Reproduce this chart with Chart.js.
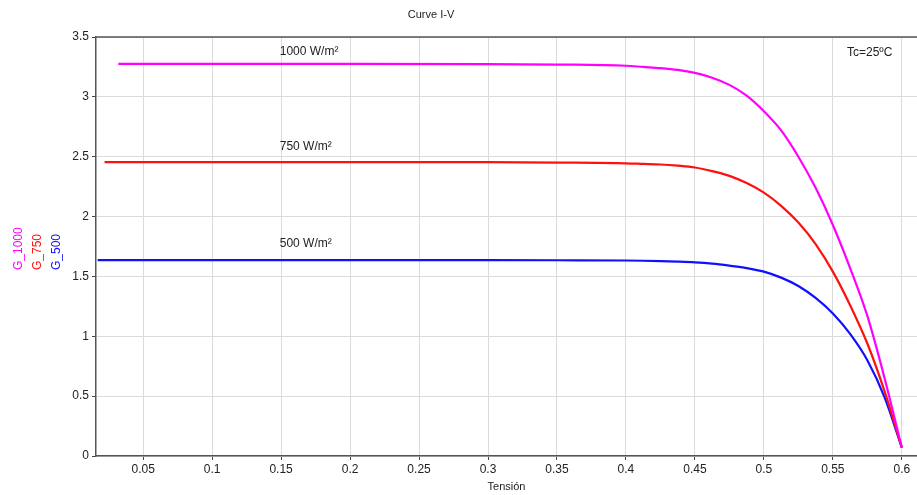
<!DOCTYPE html>
<html>
<head>
<meta charset="utf-8">
<script src="https://cdn.jsdelivr.net/npm/chart.js@4.4.1/dist/chart.umd.min.js"></script>
<style>
  html, body { margin:0; padding:0; background:#fff; }
  #wrap { width:917px; height:495px; }
</style>
</head>
<body>
<div id="wrap"><canvas id="ivChart" width="917" height="495"></canvas></div>
<script>
// Tensión (V) / corriente (A)
const v1000 = [0.032, 0.1, 0.2, 0.3, 0.35, 0.4, 0.4125, 0.425, 0.4375, 0.45, 0.4625, 0.475, 0.4875, 0.5, 0.5125, 0.525, 0.5375, 0.55, 0.5625, 0.575, 0.5875, 0.6];
const g1000 = [3.275, 3.275, 3.275, 3.274, 3.27, 3.26, 3.25, 3.24, 3.225, 3.20, 3.16, 3.10, 3.01, 2.88, 2.72, 2.50, 2.24, 1.93, 1.57, 1.17, 0.65, 0.07];

const v750 = [0.022, 0.1, 0.2, 0.3, 0.35, 0.4, 0.4125, 0.425, 0.4375, 0.45, 0.4625, 0.475, 0.4875, 0.5, 0.5125, 0.525, 0.5375, 0.55, 0.5625, 0.575, 0.5875, 0.6];
const g750 = [2.455, 2.455, 2.455, 2.454, 2.451, 2.445, 2.44, 2.435, 2.425, 2.41, 2.38, 2.34, 2.28, 2.20, 2.09, 1.95, 1.77, 1.54, 1.26, 0.94, 0.54, 0.07];

const v500 = [0.017, 0.1, 0.2, 0.3, 0.35, 0.4, 0.4125, 0.425, 0.4375, 0.45, 0.4625, 0.475, 0.4875, 0.5, 0.5125, 0.525, 0.5375, 0.55, 0.5625, 0.575, 0.5875, 0.6];
const g500 = [1.637, 1.637, 1.637, 1.636, 1.635, 1.633, 1.631, 1.628, 1.624, 1.618, 1.607, 1.59, 1.57, 1.54, 1.49, 1.42, 1.32, 1.19, 1.02, 0.80, 0.49, 0.07];

const xTicks = [0.05, 0.1, 0.15, 0.2, 0.25, 0.3, 0.35, 0.4, 0.45, 0.5, 0.55, 0.6];
const yTicks = [0, 0.5, 1, 1.5, 2, 2.5, 3, 3.5];

const seriesNames = ['G_1000', 'G_750', 'G_500'];
const seriesColors = ['#ff00ff', '#ff1010', '#1010ff'];
const curveLabels = ['1000 W/m²', '750 W/m²', '500 W/m²'];
const curveLabelAt = [[0.149, 3.38], [0.149, 2.58], [0.149, 1.77]];

function toPoints(xs, ys){
    return xs.map((x, i) => ({x: x, y: ys[i]}));
}

const textFont = '12px "Liberation Sans", Arial, sans-serif';

// titles, curve labels, rotated legend, top border
const extras = {
    id: 'extras',
    afterDraw(chart){
        let ctx = chart.ctx;
        let area = chart.chartArea;
        let xs = chart.scales.x;
        let ys = chart.scales.y;
        ctx.save();

        ctx.strokeStyle = '#555';
        ctx.lineWidth = 1.5;
        ctx.beginPath();
        ctx.moveTo(area.left, area.top);
        ctx.lineTo(area.right, area.top);
        ctx.stroke();

        ctx.fillStyle = '#222';
        ctx.font = '11px "Liberation Sans", Arial, sans-serif';
        ctx.textAlign = 'center';
        ctx.textBaseline = 'middle';
        ctx.fillText('Curve I-V', 431, 15);
        ctx.fillText('Tensión', (area.left + area.right) / 2, 487);

        ctx.font = textFont;
        ctx.textAlign = 'left';
        for(let i = 0; i < curveLabels.length; i++){
            ctx.fillText(curveLabels[i], xs.getPixelForValue(curveLabelAt[i][0]), ys.getPixelForValue(curveLabelAt[i][1]));
        }
        ctx.fillText('Tc=25ºC', 847, 53);

        let legendX = [19, 38, 57];
        for(let i = 0; i < seriesNames.length; i++){
            ctx.save();
            ctx.translate(legendX[i], 270);
            ctx.rotate(-Math.PI / 2);
            ctx.fillStyle = seriesColors[i];
            ctx.textAlign = 'left';
            ctx.textBaseline = 'middle';
            ctx.fillText(seriesNames[i], 0, 0);
            ctx.restore();
        }
        ctx.restore();
    }
};

const datasets = [
    {label: seriesNames[0], data: toPoints(v1000, g1000), borderColor: seriesColors[0]},
    {label: seriesNames[1], data: toPoints(v750, g750), borderColor: seriesColors[1]},
    {label: seriesNames[2], data: toPoints(v500, g500), borderColor: seriesColors[2]}
].map(d => Object.assign(d, {borderWidth: 2.2, pointRadius: 0, fill: false, cubicInterpolationMode: 'monotone'}));

const gridOpts = {
    color: '#dadada',
    lineWidth: 1,
    drawTicks: true,
    tickLength: 4,
    tickColor: '#444'
};

new Chart(document.getElementById('ivChart'), {
    type: 'line',
    data: {datasets: datasets},
    options: {
        responsive: false,
        animation: false,
        layout: {padding: {top: 37, left: 0, right: 0, bottom: 0}},
        plugins: {
            legend: {display: false},
            title: {display: false},
            tooltip: {enabled: false}
        },
        scales: {
            x: {
                type: 'linear',
                min: 0.0158,
                max: 0.611,
                grid: gridOpts,
                border: {display: true, color: '#555', width: 1.5},
                ticks: {
                    color: '#222',
                    font: {family: '"Liberation Sans", Arial, sans-serif', size: 12},
                    padding: 2,
                    maxRotation: 0,
                    callback: v => String(Math.round(v * 100) / 100)
                },
                afterBuildTicks: s => { s.ticks = xTicks.map(v => ({value: v})); },
                afterFit: s => { s.height = 39; }
            },
            y: {
                min: 0,
                max: 3.5,
                grid: gridOpts,
                border: {display: true, color: '#555', width: 1.5},
                ticks: {
                    color: '#222',
                    font: {family: '"Liberation Sans", Arial, sans-serif', size: 12},
                    padding: 3,
                    callback: v => String(v)
                },
                afterBuildTicks: s => { s.ticks = yTicks.map(v => ({value: v})); },
                afterFit: s => { s.width = 96; }
            }
        }
    },
    plugins: [extras]
});
</script>
</body>
</html>
